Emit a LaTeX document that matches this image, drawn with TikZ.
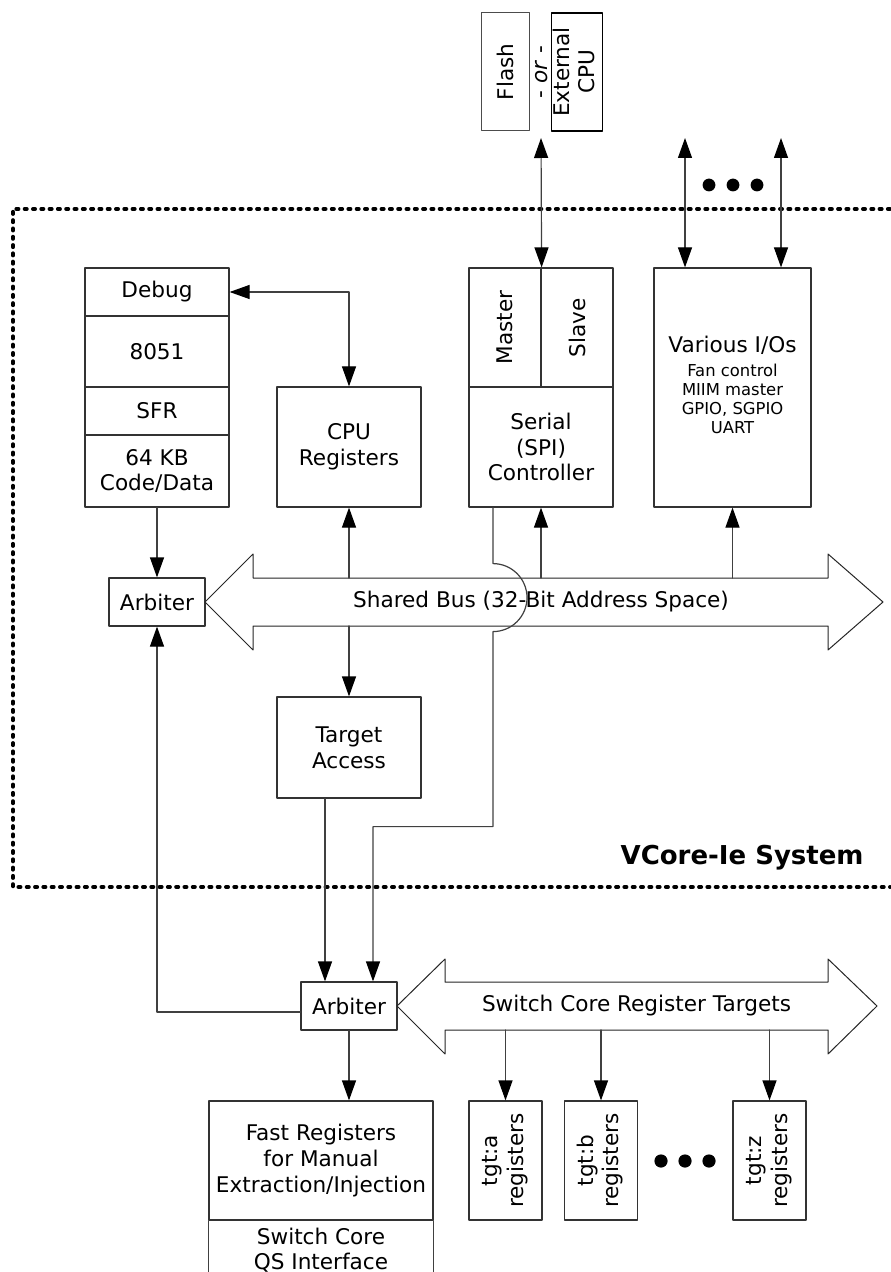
\documentclass[tikz,border=0pt]{standalone}
\usepackage{fontspec}
\setmainfont{DejaVu Sans}
\usetikzlibrary{arrows.meta}
\usetikzlibrary{positioning}
\newcommand{\vlab}[1]{\rotatebox{90}{\begin{tabular}{@{}c@{}}#1\end{tabular}}}

\begin{document}
\begin{tikzpicture}[line cap=round,line join=round,x=0.5pt,y=-0.5pt,
  >={Triangle[length=10pt,width=7pt,color=black]},
  blk/.style={draw=black!80,line width=0.6pt,inner sep=0pt,align=center,font=\fontsize{10.8}{12.8}\selectfont},
  txt/.style={inner sep=0pt,align=center,font=\fontsize{10.8}{12.8}\selectfont},
  wire/.style={draw=black!75,line width=0.6pt},
  bus/.style={draw=black!85,line width=0.5pt,fill=white}]
\useasboundingbox (0,0) rectangle (890,1272);
% outside the system
\node[blk,draw=black!70,line width=0.5pt,minimum width=24pt,minimum height=59pt] (flash) at (505,72) {\rotatebox{90}{Flash}};
\node[txt] (ortext) at (541.5,72) {\rotatebox{90}{- \textit{or} -}};
\node[blk,draw=black,line width=0.8pt,minimum width=24pt,minimum height=59pt] (extcpu) at (577,72) {\vlab{External\\CPU}};
\coordinate (memif) at (541,138);
\coordinate (io1) at (685,138);
\coordinate (io2) at (781,138);
\foreach \x in {709,733,757} \fill (\x,185) circle (3.2pt);
% system boundary
\draw[line width=1.9pt,dash pattern=on 1.1pt off 3.05pt] (890,209) -- (13,209) -- (13,887) -- (890,887);
\node[anchor=east,inner sep=0pt,font=\fontsize{13}{15}\selectfont\bfseries] (sysname) at (864,858) {VCore-Ie System};
% 8051 stack
\node[blk,minimum width=72pt,minimum height=24pt] (debug) at (157,292) {Debug};
\node[blk,minimum width=72pt,minimum height=35.5pt] (core) at (157,351.5) {8051};
\node[blk,minimum width=72pt,minimum height=24pt] (sfr) at (157,411) {SFR};
\node[blk,minimum width=72pt,minimum height=36pt] (mem) at (157,471) {64 KB\\Code/Data};
\node[blk,minimum width=72pt,minimum height=60pt] (cpureg) at (349,447) {CPU\\Registers};
\node[blk,minimum width=48pt,minimum height=24pt] (arbtop) at (157,602) {Arbiter};
\node[blk,minimum width=72pt,minimum height=50.5pt] (target) at (349,747.5) {Target\\Access};
% SPI and I/Os
\node[blk,minimum width=36pt,minimum height=59.5pt] (master) at (505,327.5) {\rotatebox{90}{Master}};
\node[blk,minimum width=36pt,minimum height=59.5pt] (slave) at (577,327.5) {\rotatebox{90}{Slave}};
\node[blk,minimum width=72pt,minimum height=60pt] (serial) at (541,447) {Serial\\(SPI)\\Controller};
\node[blk,minimum width=78.5pt,minimum height=119.5pt] (vio) at (732.5,387.5) {Various I/Os\\[-1pt]\fontsize{8.2}{9.5}\selectfont\begin{tabular}[t]{@{}c@{}}Fan control\\MIIM master\\GPIO, SGPIO\\UART\end{tabular}};
% shared bus
\draw[bus] (205,602) -- (253,554) -- (253,578) -- (828,578) -- (828,554) -- (883,602) -- (828,650) -- (828,626) -- (253,626) -- (253,650) -- cycle;
\node[txt] (sbuslabel) at (541,602) {Shared Bus (32-Bit Address Space)};
\coordinate (sbtop) at (541,578);
\coordinate (sbbot) at (541,626);
% switch core side
\node[blk,minimum width=48pt,minimum height=24pt] (arbbot) at (349,1006) {Arbiter};
\node[blk,minimum width=112pt,minimum height=59.5pt] (fastreg) at (321,1160.5) {Fast Registers\\for Manual\\Extraction/Injection};
\node[txt] (qsif) at (321,1250) {Switch Core\\QS Interface};
\draw[wire] (fastreg.south west) -- ++(0,60);
\draw[wire] (fastreg.south east) -- ++(0,60);
\draw[bus] (397,1006) -- (445,959) -- (445,982) -- (828,982) -- (828,959) -- (877,1006) -- (828,1054) -- (828,1030) -- (445,1030) -- (445,1054) -- cycle;
\node[txt] (swlabel) at (636.5,1006) {Switch Core Register Targets};
\coordinate (swbot) at (636,1030);
\foreach \n/\x in {a/505.5,b/601,z/769.5}
  \node[blk,minimum width=36.5pt,minimum height=59.5pt] (tgt\n) at (\x,1160.5) {\vlab{tgt:\n\\registers}};
\foreach \x in {661,685,709} \fill (\x,1161) circle (3.3pt);
% connections
\draw[wire,<->] (memif) -- (master.north east);
\draw[wire,<->] (io1) -- (io1 |- vio.north);
\draw[wire,<->] (io2) -- (io2 |- vio.north);
\draw[wire,<->] (debug.east) -| (cpureg.north);
\draw[wire,->] (mem.south) -- (arbtop.north);
\draw[wire,->] (sbtop -| cpureg.south) -- (cpureg.south);
\draw[wire,->] (sbbot -| target.north) -- (target.north);
\draw[wire,->] (sbtop) -- (serial.south);
\draw[wire,->] (sbtop -| vio.south) -- (vio.south);
\draw[wire,->] ([xshift=-24pt]serial.south) -- ++(0,56) arc[start angle=90,end angle=-90,radius=17pt] -- ++(0,195) -| ([xshift=12pt]arbbot.north);
\draw[wire,->] ([xshift=-12pt]target.south) -- ([xshift=-12pt]arbbot.north);
\draw[wire,->] ([yshift=-3pt]arbbot.west) -| (arbtop.south);
\draw[wire,->] (arbbot.south) -- (arbbot.south |- fastreg.north);
\foreach \n in {a,b,z} \draw[wire,->] (swbot -| tgt\n.north) -- (tgt\n.north);
\end{tikzpicture}
\end{document}
